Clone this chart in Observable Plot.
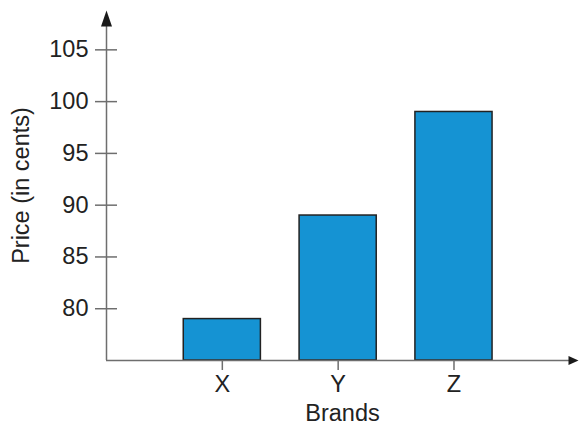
<!DOCTYPE html>
<html>
<head>
<meta charset="utf-8">
<script src="https://cdn.jsdelivr.net/npm/d3@7"></script>
<script src="https://cdn.jsdelivr.net/npm/@observablehq/plot@0.6"></script>
<style>
  html, body { margin: 0; padding: 0; background: #fff; }
</style>
</head>
<body>
<div id="chart"></div>
<script>
const brands = ["X", "Y", "Z"];
const prices = [79, 89, 99];
const yTicks = [80, 85, 90, 95, 100, 105];
const xLabel = "Brands";
const yLabel = "Price (in cents)";

const yMin = 75, yMax = 108.8;
const xMin = 0, xMax = 4.075;
const halfBar = 0.333;
const axisColor = "#6e6e6e";
const textColor = "#222";

const data = brands.map((b, i) => ({brand: b, pos: i + 1, price: prices[i]}));

function headShape(halfWidth) {
  return {
    draw(context, l) {
      context.moveTo(-halfWidth, 0);
      context.lineTo(0, -l);
      context.lineTo(halfWidth, 0);
      context.closePath();
    }
  };
}

const chart = Plot.plot({
  width: 579,
  height: 427,
  marginLeft: 106,
  marginRight: 1,
  marginTop: 10,
  marginBottom: 67,
  style: {fontSize: "23.5px", fontFamily: "'Liberation Sans', Arial, Helvetica, sans-serif", color: textColor, background: "#fff"},
  x: {domain: [xMin, xMax]},
  y: {domain: [yMin, yMax]},
  marks: [
    Plot.rectY(data, {
      x1: d => d.pos - halfBar,
      x2: d => d.pos + halfBar,
      y1: yMin,
      y2: "price",
      fill: "#1593d3",
      stroke: "#222",
      strokeWidth: 1.5
    }),
    Plot.ruleY([yMin], {x1: xMin, x2: xMax - 0.05, stroke: axisColor, strokeWidth: 1.5}),
    Plot.ruleX([xMin], {y1: yMin, y2: yMax - 1, stroke: axisColor, strokeWidth: 1.5}),
    Plot.ruleY(yTicks, {x1: xMin - 0.095, x2: xMin + 0.095, stroke: axisColor, strokeWidth: 1.5}),
    Plot.axisY({
      ticks: yTicks,
      tickSize: 0,
      tickPadding: 18,
      fill: textColor,
      label: yLabel,
      labelAnchor: "center",
      labelOffset: 94,
      labelArrow: "none"
    }),
    Plot.axisX({
      ticks: data.map(d => d.pos),
      tickFormat: p => brands[p - 1],
      tickSize: 10,
      tickPadding: 5,
      stroke: axisColor,
      strokeWidth: 1.5,
      fill: textColor,
      label: xLabel,
      labelAnchor: "center",
      labelOffset: 60,
      labelArrow: "none"
    }),
    Plot.vector([{x: xMin, y: yMax}], {x: "x", y: "y", length: 16, rotate: 0, anchor: "end", shape: headShape(5.5), fill: "#1a1a1a", stroke: "none"}),
    Plot.vector([{x: xMax, y: yMin}], {x: "x", y: "y", length: 10, rotate: 90, anchor: "end", shape: headShape(4.5), fill: "#1a1a1a", stroke: "none"})
  ]
});

document.getElementById("chart").appendChild(chart);
</script>
</body>
</html>
